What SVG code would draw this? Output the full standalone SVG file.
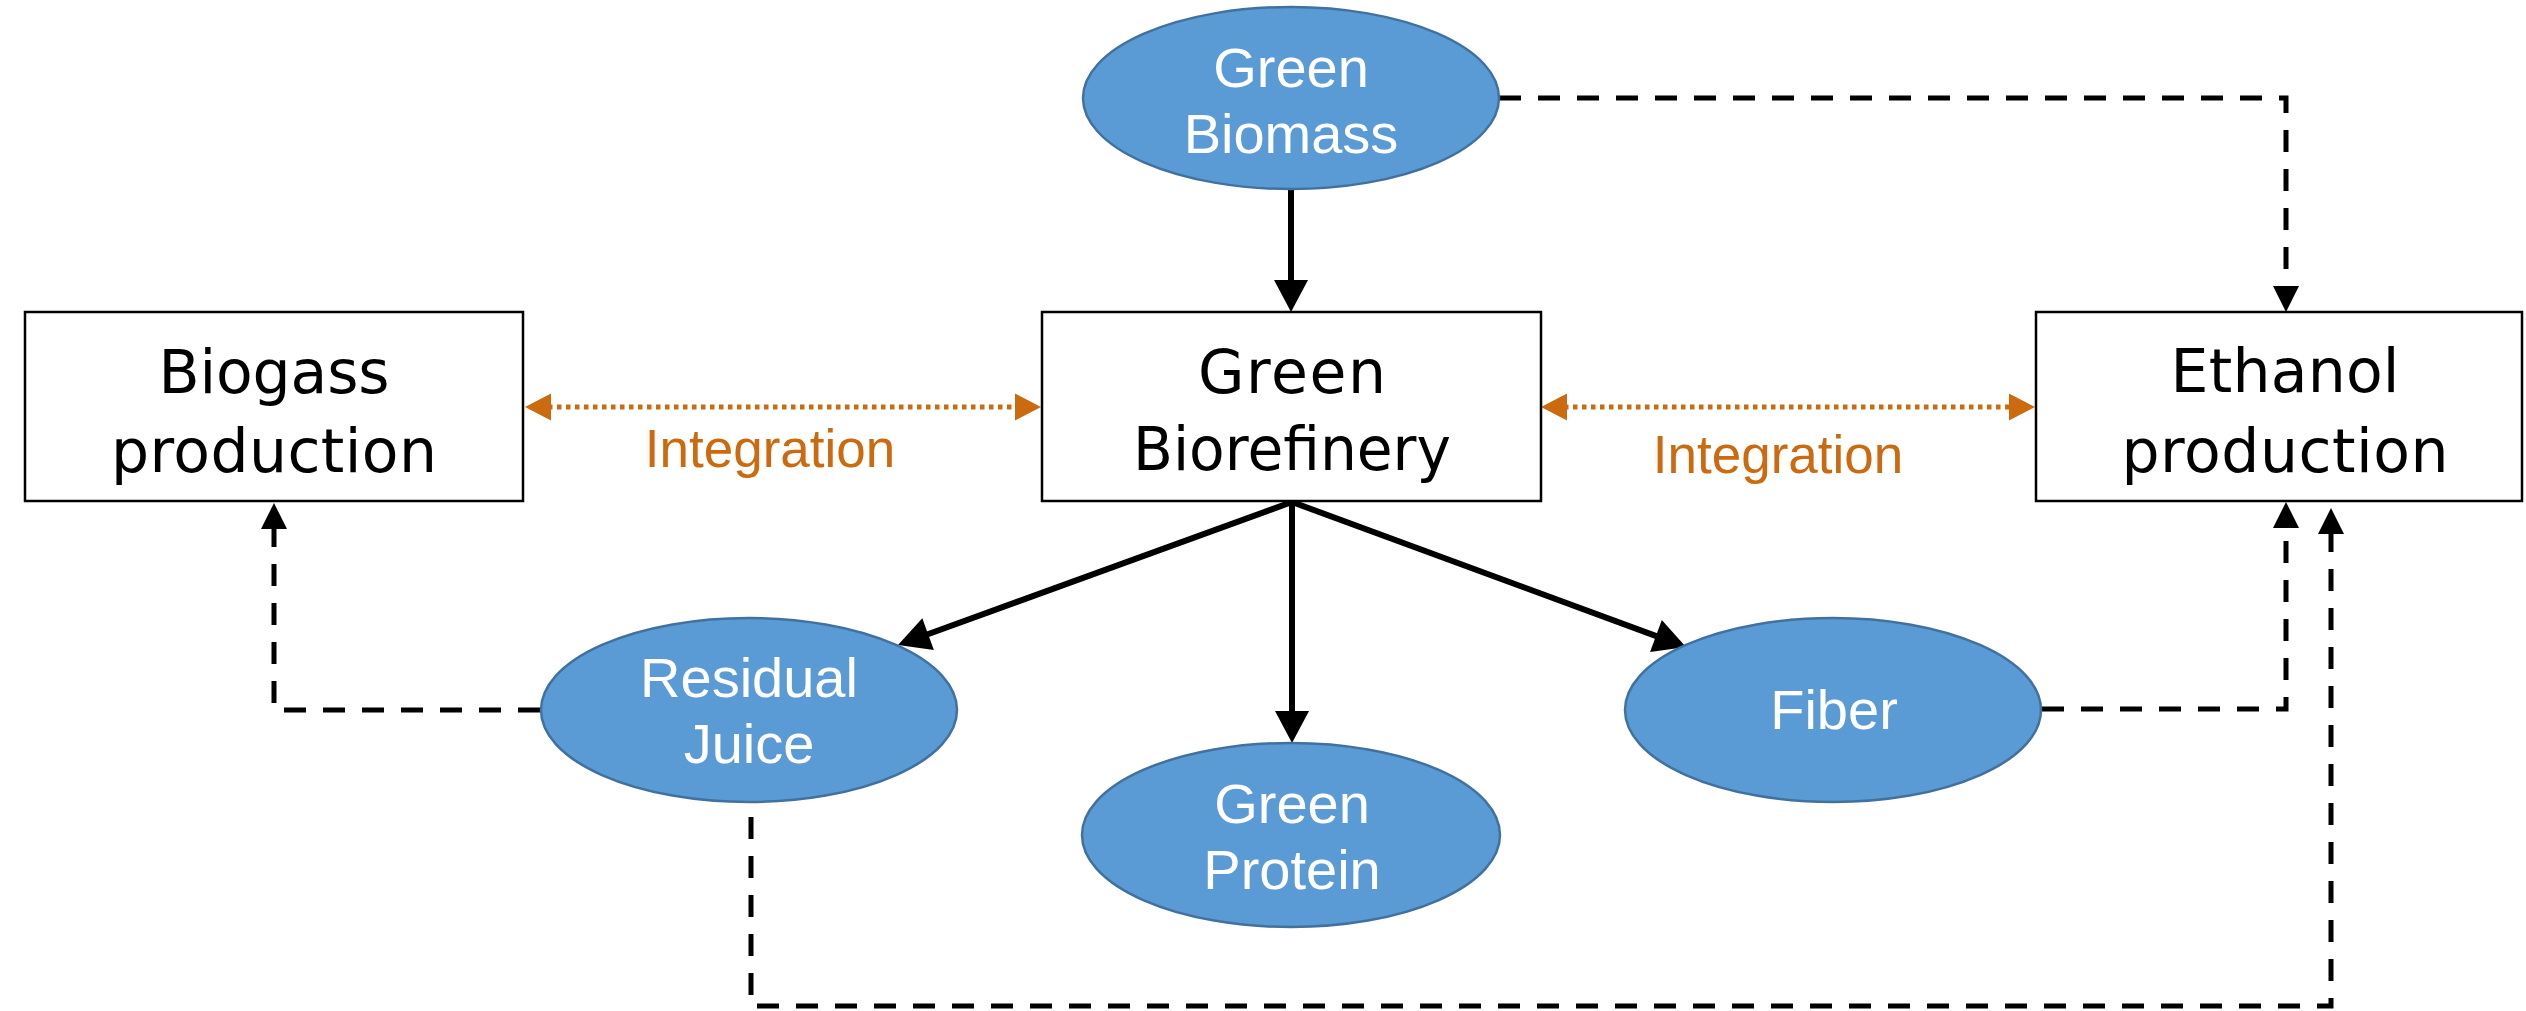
<svg xmlns="http://www.w3.org/2000/svg" width="2526" height="1011" viewBox="0 0 2526 1011">
<style>
.box{fill:#fff;stroke:#000;stroke-width:2.5}
.ell{fill:#5B9BD5;stroke:#41719C;stroke-width:2.5}
.bt{font-family:"DejaVu Sans",sans-serif;font-size:60px;fill:#000;text-anchor:middle}
.et{font-family:"Liberation Sans",Arial,sans-serif;font-size:56px;fill:#fff;text-anchor:middle}
.it{font-family:"Liberation Sans",Arial,sans-serif;font-size:53px;fill:#CC6A10;text-anchor:middle}
.solid{fill:none;stroke:#000;stroke-width:6;marker-end:url(#ah)}
.dash{fill:none;stroke:#000;stroke-width:5;stroke-dasharray:22 17;marker-end:url(#dh)}
.dot{fill:none;stroke:#CC6A10;stroke-width:5;stroke-dasharray:4.5 4.5;marker-start:url(#oh);marker-end:url(#oh)}
</style>
<defs>
<marker id="ah" markerUnits="userSpaceOnUse" markerWidth="34" markerHeight="34" refX="12" refY="17" orient="auto" overflow="visible"><path d="M0,0 L32,17 L0,34 z" fill="#000"/></marker>
<marker id="dh" markerUnits="userSpaceOnUse" markerWidth="26" markerHeight="26" refX="12" refY="13" orient="auto" overflow="visible"><path d="M0,0 L26,13 L0,26 z" fill="#000"/></marker>
<marker id="oh" markerUnits="userSpaceOnUse" markerWidth="26" markerHeight="27" refX="12" refY="13.5" orient="auto-start-reverse" overflow="visible"><path d="M0,0 L26,13.5 L0,27 z" fill="#CC6A10"/></marker>
</defs>
<rect width="2526" height="1011" fill="#fff"/>
<g id="connectors">
<path class="solid" d="M1291,190 V292"/>
<path class="solid" d="M1292,502 L916.8,638.2"/>
<path class="solid" d="M1292,502 V723"/>
<path class="solid" d="M1292,502 L1667.2,640.1"/>
<path class="dash" d="M1499,98 H2286 V298"/>
<path class="dash" d="M540,710 H274 V517"/>
<path class="dash" d="M2042,709 H2286 V516"/>
<path class="dash" d="M751,817 V1006 H2331 V522"/>
<path class="dot" d="M539,407 H1027"/>
<path class="dot" d="M1555,407 H2021"/>
<text class="it" x="770" y="467">Integration</text>
<text class="it" x="1778" y="473">Integration</text>
</g>
<g id="green-biomass">
<ellipse class="ell" cx="1291" cy="98" rx="208" ry="91"/>
<text class="et" x="1291" y="87">Green</text>
<text class="et" x="1291" y="153">Biomass</text>
</g>
<g id="biogass-production">
<rect class="box" x="25" y="312" width="498" height="189"/>
<text class="bt" x="274" y="393" textLength="231" lengthAdjust="spacing">Biogass</text>
<text class="bt" x="274" y="472" textLength="326" lengthAdjust="spacing">production</text>
</g>
<g id="green-biorefinery">
<rect class="box" x="1042" y="312" width="499" height="189"/>
<text class="bt" x="1292" y="393" textLength="188" lengthAdjust="spacing">Green</text>
<text class="bt" x="1292" y="470" textLength="318" lengthAdjust="spacingAndGlyphs">Biorefinery</text>
</g>
<g id="ethanol-production">
<rect class="box" x="2036" y="312" width="486" height="189"/>
<text class="bt" x="2285" y="392" textLength="229" lengthAdjust="spacing">Ethanol</text>
<text class="bt" x="2285" y="472" textLength="327" lengthAdjust="spacing">production</text>
</g>
<g id="residual-juice">
<ellipse class="ell" cx="749" cy="710" rx="208" ry="92"/>
<text class="et" x="749" y="697">Residual</text>
<text class="et" x="749" y="763">Juice</text>
</g>
<g id="green-protein">
<ellipse class="ell" cx="1291" cy="835" rx="209" ry="92"/>
<text class="et" x="1292" y="823">Green</text>
<text class="et" x="1292" y="889">Protein</text>
</g>
<g id="fiber">
<ellipse class="ell" cx="1833" cy="710" rx="208" ry="92"/>
<text class="et" x="1834" y="729">Fiber</text>
</g>
</svg>
